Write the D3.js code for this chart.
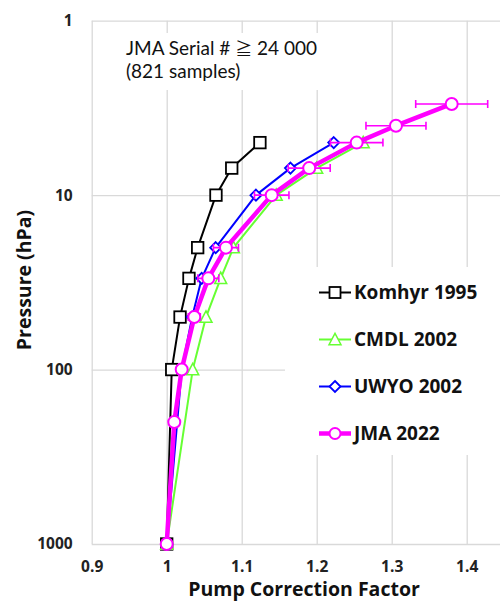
<!DOCTYPE html>
<html>
<head>
<meta charset="utf-8">
<script src="https://cdn.jsdelivr.net/npm/d3@7"></script>
<style>
  body { margin: 0; background: #fff; }
  svg { display: block; font-family: "Open Sans", sans-serif; }
</style>
</head>
<body>
<svg width="500" height="602"></svg>
<script>
// pressure levels (hPa) and pump correction factors
const komhyrP = [1000, 100, 50, 30, 20, 10, 7, 5];
const komhyrF = [1.000, 1.0067, 1.0178, 1.0297, 1.0413, 1.0657, 1.0867, 1.1243];

const cmdlP = [1000, 100, 50, 30, 20, 10, 7, 5];
const cmdlF = [1.000, 1.0347, 1.0524, 1.072, 1.089, 1.146, 1.200, 1.262];

const uwyoP = [1000, 100, 50, 30, 20, 10, 7, 5];
const uwyoF = [1.000, 1.020, 1.034, 1.0467, 1.0653, 1.119, 1.165, 1.2227];

const jmaP = [1000, 200, 100, 50, 30, 20, 10, 7, 5, 4, 3];
const jmaF = [1.000, 1.0101, 1.020, 1.0368, 1.0555, 1.079, 1.140, 1.190, 1.2533, 1.3057, 1.380];
const jmaErr = [0, 0.004, 0.006, 0.008, 0.014, 0.0167, 0.023, 0.028, 0.035, 0.040, 0.048];

const xTicks = [0.9, 1, 1.1, 1.2, 1.3, 1.4];
const yTicks = [1, 10, 100, 1000];

const seriesNames = ["Komhyr 1995", "CMDL 2002", "UWYO 2002", "JMA 2022"];
// first note line is split so only the ≧ sign needs the CJK font
const noteLine1 = ["JMA Serial # ", "≧", " 24 000"];
const noteLine2 = "(821 samples)";

const svg = d3.select("svg");

const x = d3.scaleLinear().domain([0.9, 1.5]).range([91.7, 541.7]);
const y = d3.scaleLog().domain([1, 1000]).range([20.7, 544]);

const gridColor = "#d9d9d9";

// gridlines
svg.append("g")
    .attr("transform", "translate(0,544)")
    .call(d3.axisBottom(x).tickValues(xTicks).tickSize(-523.3).tickFormat(""))
    .call(g => g.select(".domain").remove())
    .selectAll("line").attr("stroke", gridColor).attr("stroke-width", 1.3);

svg.append("g")
    .attr("transform", "translate(91.7,0)")
    .call(d3.axisLeft(y).tickValues(yTicks).tickSize(-460).tickFormat(""))
    .call(g => g.select(".domain").remove())
    .selectAll("line").attr("stroke", gridColor).attr("stroke-width", 1.3);

// tick labels
svg.append("g")
    .attr("transform", "translate(0,544)")
    .call(d3.axisBottom(x).tickValues(xTicks).tickSize(0).tickPadding(17).tickFormat(d3.format("~g")))
    .call(g => g.select(".domain").remove())
    .selectAll("text")
    .attr("font-family", "Open Sans").attr("font-weight", "bold")
    .attr("font-size", 15.5).attr("fill", "#222");

svg.append("g")
    .attr("transform", "translate(91.7,0)")
    .call(d3.axisLeft(y).tickValues(yTicks).tickSize(0).tickPadding(19).tickFormat(d3.format("~g")))
    .call(g => g.select(".domain").remove())
    .selectAll("text")
    .attr("font-family", "Open Sans").attr("font-weight", "bold")
    .attr("font-size", 15.5).attr("fill", "#222");

// axis titles
svg.append("text")
    .attr("x", 304).attr("y", 596)
    .attr("text-anchor", "middle")
    .attr("font-weight", "bold").attr("font-size", 19.5).attr("fill", "#111")
    .text("Pump Correction Factor");

svg.append("text")
    .attr("transform", "translate(31,280) rotate(-90)")
    .attr("text-anchor", "middle")
    .attr("font-weight", "bold").attr("font-size", 19.5).attr("fill", "#111")
    .text("Pressure (hPa)");

// note box
svg.append("rect")
    .attr("x", 100).attr("y", 33).attr("width", 245).attr("height", 57)
    .attr("fill", "#fff");
const note1 = svg.append("text")
    .attr("x", 126).attr("y", 55)
    .attr("font-family", "Lato, sans-serif")
    .attr("font-size", 19).attr("fill", "#111");
noteLine1.forEach((t, i) => {
    const ts = note1.append("tspan").text(t);
    if (i === 1) ts.attr("font-family", "'Noto Sans CJK JP'").attr("font-size", 17);
});
svg.append("text")
    .attr("x", 126).attr("y", 78)
    .attr("font-family", "Lato, sans-serif")
    .attr("font-size", 19).attr("fill", "#111")
    .text(noteLine2);

// legend box
svg.append("rect")
    .attr("x", 285).attr("y", 267).attr("width", 230).attr("height", 188)
    .attr("fill", "#fff");

const line = d3.line()
    .x(d => x(d.f))
    .y(d => y(d.p));

function toPoints(ps, fs, errs) {
    return ps.map((p, i) => ({ p: p, f: fs[i], e: errs ? errs[i] : 0 }));
}

// marker drawers
function square(g, cx, cy, s, color) {
    g.append("rect")
        .attr("x", cx - s / 2).attr("y", cy - s / 2)
        .attr("width", s).attr("height", s)
        .attr("fill", "#fff").attr("stroke", color).attr("stroke-width", 1.8);
}
function triangle(g, cx, cy, s, color) {
    const h = s * 0.87;
    g.append("path")
        .attr("d", `M${cx},${cy - h / 2 - 1}L${cx + s / 2},${cy + h / 2}L${cx - s / 2},${cy + h / 2}Z`)
        .attr("fill", "#fff").attr("stroke", color).attr("stroke-width", 1.5);
}
function diamond(g, cx, cy, s, color) {
    g.append("path")
        .attr("d", `M${cx},${cy - s}L${cx + s},${cy}L${cx},${cy + s}L${cx - s},${cy}Z`)
        .attr("fill", "#fff").attr("stroke", color).attr("stroke-width", 1.8);
}
function circle(g, cx, cy, r, color) {
    g.append("circle")
        .attr("cx", cx).attr("cy", cy).attr("r", r)
        .attr("fill", "#fff").attr("stroke", color).attr("stroke-width", 2);
}

const series = [
    { name: seriesNames[0], data: toPoints(komhyrP, komhyrF), color: "#000", width: 2, marker: square, size: 11.5, lsize: 11 },
    { name: seriesNames[1], data: toPoints(cmdlP, cmdlF), color: "#66ff33", width: 2, marker: triangle, size: 12, lsize: 12 },
    { name: seriesNames[2], data: toPoints(uwyoP, uwyoF), color: "#0000ff", width: 2, marker: diamond, size: 5.5, lsize: 5.5 },
    { name: seriesNames[3], data: toPoints(jmaP, jmaF, jmaErr), color: "#ff00ff", width: 4.5, marker: circle, size: 6, lsize: 5.5 }
];

series.forEach(s => {
    const g = svg.append("g");
    g.append("path")
        .attr("d", line(s.data))
        .attr("fill", "none")
        .attr("stroke", s.color)
        .attr("stroke-width", s.width)
        .attr("stroke-linejoin", "round");

    // error bars (only JMA has them)
    s.data.filter(d => d.e > 0).forEach(d => {
        const x0 = x(d.f - d.e), x1 = x(d.f + d.e), yy = y(d.p);
        g.append("path")
            .attr("d", `M${x0},${yy}H${x1}M${x0},${yy - 4}V${yy + 4}M${x1},${yy - 4}V${yy + 4}`)
            .attr("stroke", s.color).attr("stroke-width", 1.6).attr("fill", "none");
    });

    s.data.forEach(d => s.marker(g, x(d.f), y(d.p), s.size, s.color));
});

// legend
const legendY = [292.5, 339.5, 386.5, 433.5];
series.forEach((s, i) => {
    const g = svg.append("g");
    const ly = legendY[i];
    g.append("line")
        .attr("x1", 319).attr("x2", 351).attr("y1", ly).attr("y2", ly)
        .attr("stroke", s.color).attr("stroke-width", s.width);
    s.marker(g, 335, ly, s.lsize, s.color);
    g.append("text")
        .attr("x", 354).attr("y", ly)
        .attr("dy", "0.36em")
        .attr("font-weight", "bold").attr("font-size", 19).attr("fill", "#111")
        .text(s.name);
});
</script>
</body>
</html>
